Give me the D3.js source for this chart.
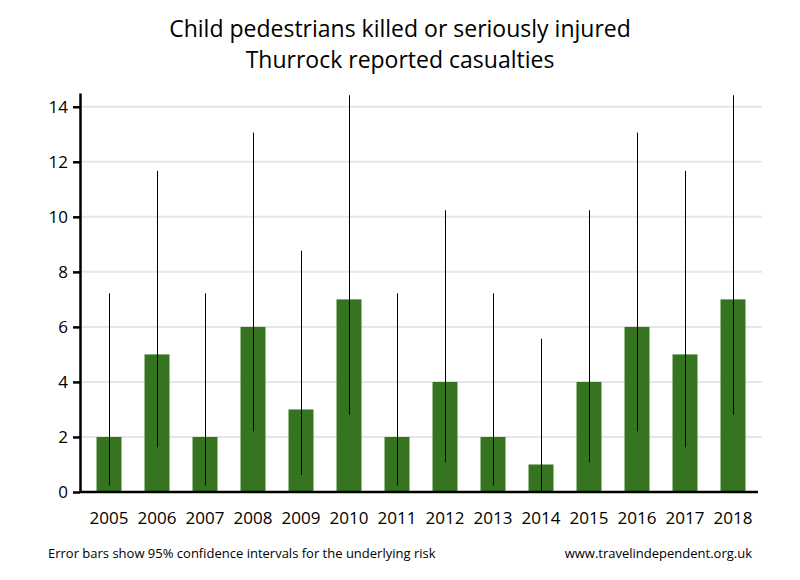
<!DOCTYPE html>
<html lang="en">

<head>
    <meta charset="UTF-8">
    <title>Child pedestrians KSI - Thurrock</title>
    <style>
    body {
        margin: 0;
        background: #fff;
    }

    text {
        font-family: "Open Sans", sans-serif;
        fill: #000;
    }

    .title {
        font-size: 23px;
    }

    .tick text {
        font-size: 17px;
    }

    .note {
        font-size: 13px;
    }
    </style>
</head>

<body>
    <svg width="800" height="580"></svg>
    <script src="https://d3js.org/d3.v7.min.js"></script>
</body>
<script>
var years = ["2005", "2006", "2007", "2008", "2009", "2010", "2011",
    "2012", "2013", "2014", "2015", "2016", "2017", "2018"];
var casualties = [2, 5, 2, 6, 3, 7, 2, 4, 2, 1, 4, 6, 5, 7];
// 95% confidence interval ends
var lower = [0.24, 1.62, 0.24, 2.2, 0.62, 2.81, 0.24, 1.09, 0.24, 0.03, 1.09, 2.2, 1.62, 2.81];
var upper = [7.22, 11.67, 7.22, 13.06, 8.77, 14.42, 7.22, 10.24, 7.22, 5.57, 10.24, 13.06, 11.67, 14.42];
var yTicks = [0, 2, 4, 6, 8, 10, 12, 14];

var svg = d3.select("svg"),
    plotLeft = 80,
    plotRight = 762,
    plotTop = 93,
    plotBottom = 492;

var x = d3.scaleBand()
    .domain(years)
    .range([85, 757])
    .paddingInner(0.48)
    .paddingOuter(0.24);

var y = d3.scaleLinear()
    .domain([0, 14.5])
    .range([plotBottom, plotTop]);

// titles
svg.append("text")
    .attr("class", "title")
    .attr("x", 400)
    .attr("y", 37)
    .attr("text-anchor", "middle")
    .text("Child pedestrians killed or seriously injured");

svg.append("text")
    .attr("class", "title")
    .attr("x", 400)
    .attr("y", 68)
    .attr("text-anchor", "middle")
    .text("Thurrock reported casualties");

// gridlines
svg.append("g")
    .selectAll("line")
    .data(yTicks.filter(function(d) { return d > 0; }))
    .join("line")
    .attr("x1", plotLeft)
    .attr("x2", plotRight)
    .attr("y1", function(d) { return y(d); })
    .attr("y2", function(d) { return y(d); })
    .attr("stroke", "#e6e6e6")
    .attr("stroke-width", 2);

// bars
svg.append("g")
    .selectAll("rect")
    .data(casualties)
    .join("rect")
    .attr("x", function(d, i) { return x(years[i]); })
    .attr("y", function(d) { return y(d); })
    .attr("width", x.bandwidth())
    .attr("height", function(d) { return y(0) - y(d); })
    .attr("fill", "#367421");

// error bars, clipped to the plot top
svg.append("g")
    .selectAll("line")
    .data(years)
    .join("line")
    .attr("x1", function(d) { return Math.round(x(d) + x.bandwidth() / 2) + 0.5; })
    .attr("x2", function(d) { return Math.round(x(d) + x.bandwidth() / 2) + 0.5; })
    .attr("y1", function(d, i) { return y(lower[i]); })
    .attr("y2", function(d, i) { return y(Math.min(upper[i], 14.5)); })
    .attr("stroke", "#000")
    .attr("stroke-width", 1);

// y axis
var yAxis = svg.append("g")
    .attr("transform", "translate(" + plotLeft + ",0)")
    .call(d3.axisLeft(y).tickValues(yTicks).tickSize(7).tickPadding(5).tickSizeOuter(0));
yAxis.select(".domain").attr("stroke-width", 2.5);
yAxis.selectAll(".tick line").attr("stroke-width", 2.5);

// x axis
var xAxis = svg.append("g")
    .attr("transform", "translate(0," + plotBottom + ")")
    .call(d3.axisBottom(x).tickSize(0).tickPadding(20));
xAxis.select(".domain")
    .attr("d", "M" + plotLeft + ",0H758")
    .attr("stroke-width", 2.5);

// footnotes
svg.append("text")
    .attr("class", "note")
    .attr("x", 48)
    .attr("y", 558)
    .text("Error bars show 95% confidence intervals for the underlying risk");

svg.append("text")
    .attr("class", "note")
    .attr("x", 752)
    .attr("y", 558)
    .attr("text-anchor", "end")
    .text("www.travelindependent.org.uk");
</script>

</html>
